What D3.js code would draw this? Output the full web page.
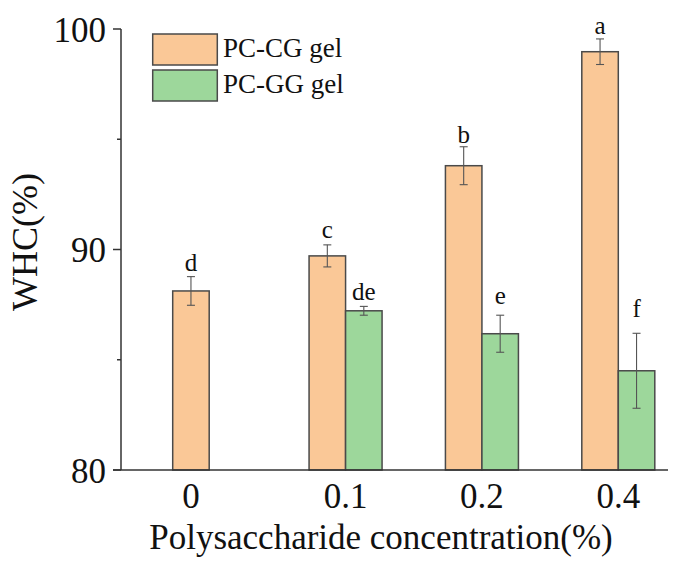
<!DOCTYPE html>
<html>
<head>
<meta charset="utf-8">
<script src="https://cdn.jsdelivr.net/npm/d3@7"></script>
<style>
  html, body { margin: 0; padding: 0; background: #fff; }
  svg { display: block; }
</style>
</head>
<body>
<svg id="chart" width="681" height="567" font-family="'Liberation Serif', 'Times New Roman', Tinos, 'DejaVu Serif', serif"></svg>
<script>
// ---- data ----
const categories = ["0", "0.1", "0.2", "0.4"];
const seriesNames = ["PC-CG gel", "PC-GG gel"];
const cgMean = [88.12, 89.71, 93.80, 98.97];
const cgSd   = [0.65, 0.50, 0.86, 0.58];
const ggMean = [null, 87.22, 86.18, 84.50];
const ggSd   = [null, 0.20, 0.84, 1.70];
const cgLetters = ["d", "c", "b", "a"];
const ggLetters = [null, "de", "e", "f"];
const cgLetterY = [89.04, 90.52, 94.82, 99.76];
const ggLetterY = [null, 87.71, 87.53, 86.94];
const yMajorTicks = [80, 90, 100];
const yMinorTicks = [85, 95];
const yTitle = "WHC(%)";
const xTitle = "Polysaccharide concentration(%)";

// ---- layout ----
const colors = { "PC-CG gel": "#FAC897", "PC-GG gel": "#9DD79B" };
const strokeCol = "#4a4a4a";
const svg = d3.select("#chart");

const y = d3.scaleLinear().domain([80, 100]).range([470, 29]);
const x = d3.scalePoint().domain(categories).range([209.2, 618.3]);
const xs = d3.scaleBand().domain(seriesNames).range([-36.5, 36.5]);
const axisX = 121, axisRight = 668;

const rows = [];
categories.forEach((c, i) => {
  rows.push({ cat: c, s: seriesNames[0], v: cgMean[i], sd: cgSd[i], letter: cgLetters[i], ly: cgLetterY[i] });
  if (ggMean[i] != null)
    rows.push({ cat: c, s: seriesNames[1], v: ggMean[i], sd: ggSd[i], letter: ggLetters[i], ly: ggLetterY[i] });
});
const bx = d => x(d.cat) + xs(d.s);
const bc = d => bx(d) + xs.bandwidth() / 2;

// bars
svg.append("g").selectAll("rect").data(rows).join("rect")
  .attr("x", bx).attr("width", xs.bandwidth())
  .attr("y", d => y(d.v)).attr("height", d => y(80) - y(d.v))
  .attr("fill", d => colors[d.s]).attr("stroke", strokeCol).attr("stroke-width", 1.5);

// error bars
const eb = svg.append("g").attr("stroke", "#555").attr("stroke-width", 1.1);
rows.forEach(d => {
  const cx = bc(d), t = y(d.v + d.sd), b = y(d.v - d.sd);
  eb.append("line").attr("x1", cx).attr("x2", cx).attr("y1", t).attr("y2", b);
  eb.append("line").attr("x1", cx - 4).attr("x2", cx + 4).attr("y1", t).attr("y2", t);
  eb.append("line").attr("x1", cx - 4).attr("x2", cx + 4).attr("y1", b).attr("y2", b);
});

// significance letters
svg.append("g").selectAll("text").data(rows).join("text")
  .attr("x", bc).attr("y", d => y(d.ly))
  .attr("text-anchor", "middle").attr("font-size", 25).attr("fill", "#111")
  .text(d => d.letter);

// y axis
const ya = svg.append("g").attr("stroke", "#333").attr("stroke-width", 1.5);
ya.append("line").attr("x1", axisX).attr("x2", axisX).attr("y1", y(80)).attr("y2", y(100));
yMajorTicks.forEach(t => ya.append("line").attr("x1", axisX - 8).attr("x2", axisX).attr("y1", y(t)).attr("y2", y(t)));
yMinorTicks.forEach(t => ya.append("line").attr("x1", axisX - 4).attr("x2", axisX).attr("y1", y(t)).attr("y2", y(t)));
svg.append("g").selectAll("text").data(yMajorTicks).join("text")
  .attr("x", axisX - 15).attr("y", d => y(d)).attr("dy", "0.36em").attr("fill", "#111")
  .attr("text-anchor", "end").attr("font-size", 35).text(d => d);

// x axis
svg.append("line").attr("x1", axisX - 8).attr("x2", axisRight).attr("y1", y(80)).attr("y2", y(80))
  .attr("stroke", "#333").attr("stroke-width", 1.5);
svg.append("g").selectAll("text").data(categories).join("text")
  .attr("x", c => d3.mean(rows.filter(r => r.cat === c), bc)).attr("fill", "#111")
  .attr("y", 508).attr("text-anchor", "middle").attr("font-size", 35).text(c => c);

// titles
svg.append("text").attr("x", 381).attr("y", 549).attr("text-anchor", "middle").attr("fill", "#111")
  .attr("font-size", 35).text(xTitle);
svg.append("text").attr("transform", "translate(37,242) rotate(-90)").attr("text-anchor", "middle")
  .attr("fill", "#111").attr("font-size", 36).text(yTitle);

// legend
const lg = svg.append("g");
seriesNames.forEach((s, i) => {
  lg.append("rect").attr("x", 152.7).attr("y", 34 + i * 36).attr("width", 64.6).attr("height", 31)
    .attr("fill", colors[s]).attr("stroke", strokeCol).attr("stroke-width", 1.5);
  lg.append("text").attr("x", 223).attr("y", 57 + i * 35.5).attr("fill", "#111")
    .attr("font-size", 27).text(s);
});
</script>
</body>
</html>
